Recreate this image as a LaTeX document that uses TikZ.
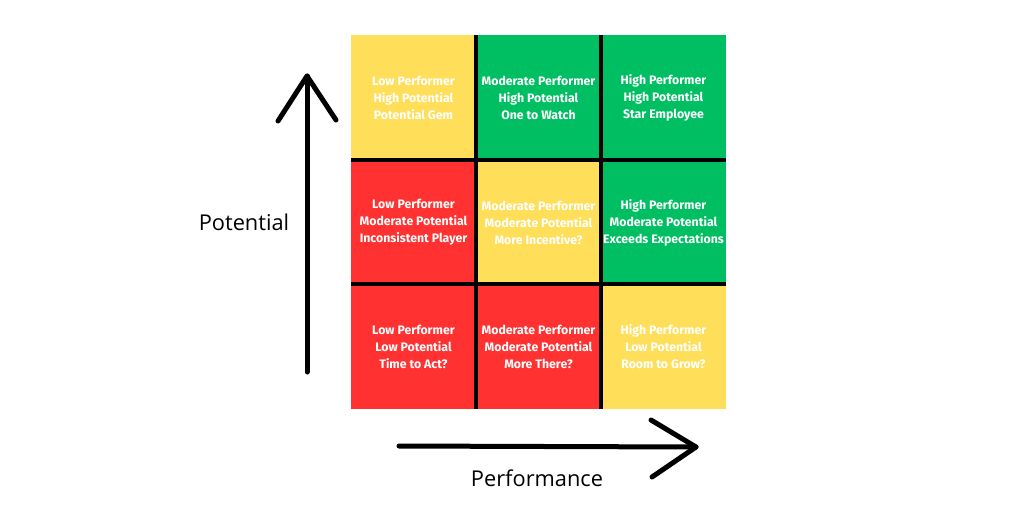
\documentclass[tikz,border=0pt]{standalone}
\usepackage{fontspec}
\setmainfont{Open Sans}
\newfontfamily\cellfont{Fira Sans}
\definecolor{cyel}{HTML}{FFDE59}
\definecolor{cgrn}{HTML}{00BF63}
\definecolor{cred}{HTML}{FF3131}
\begin{document}
\begin{tikzpicture}[x=1pt,y=-1pt,
  cell/.style={minimum width=125pt,minimum height=124.5pt,inner sep=0pt,outer sep=0pt,
    text=white,align=center,font=\cellfont\bfseries\fontsize{12.3}{17}\selectfont},
  grid/.style={line width=4pt,black},
  axis/.style={line width=5pt,black,line cap=round,line join=round},
  lbl/.style={font=\fontsize{21.8}{26}\selectfont,text=black}]
\useasboundingbox[fill=white] (0,0) rectangle (1024,512);
% cells
\node[cell,fill=cyel] (c11) at (413.5,97.5) {Low Performer\\High Potential\\Potential Gem};
\node[cell,fill=cgrn] (c12) at (538.5,97.5) {Moderate Performer\\High Potential\\One to Watch};
\node[cell,fill=cgrn] (c13) at (663.5,97.5) {High Performer\\High Potential\\Star Employee};
\node[cell,fill=cred] (c21) at (413.5,222.5) {Low Performer\\Moderate Potential\\Inconsistent Player};
\node[cell,fill=cyel] (c22) at (538.5,222.5) {Moderate Performer\\Moderate Potential\\More Incentive?};
\node[cell,fill=cgrn] (c23) at (663.5,222.5) {High Performer\\Moderate Potential\\Exceeds Expectations};
\node[cell,fill=cred] (c31) at (413.5,346.5) {Low Performer\\Low Potential\\Time to Act?};
\node[cell,fill=cred] (c32) at (538.5,346.5) {Moderate Performer\\Moderate Potential\\More There?};
\node[cell,fill=cyel] (c33) at (663.5,346.5) {High Performer\\Low Potential\\Room to Grow?};
% grid lines
\draw[grid] (c11.north east) -- (c31.south east);
\draw[grid] (c12.north east) -- (c32.south east);
\draw[grid] (c21.north west) -- (c23.north east);
\draw[grid] (c31.north west) -- (c33.north east);
% axes
\coordinate (vb) at (307,372);
\coordinate (vt) at (307,76);
\coordinate (vl) at (278,121);
\coordinate (vr) at (336,120);
\draw[axis] (vb) -- (vt);
\draw[axis] (vl) -- (vt) -- (vr);
\coordinate (hl) at (399,446);
\coordinate (hr) at (696,447);
\coordinate (hu) at (651,420);
\coordinate (hd) at (652,477);
\draw[axis] (hl) -- (hr);
\draw[axis] (hu) -- (hr) -- (hd);
% labels
\node[lbl] (potential) at (244,222) {Potential};
\node[lbl] (performance) at (537,478) {Performance};
\end{tikzpicture}
\end{document}
